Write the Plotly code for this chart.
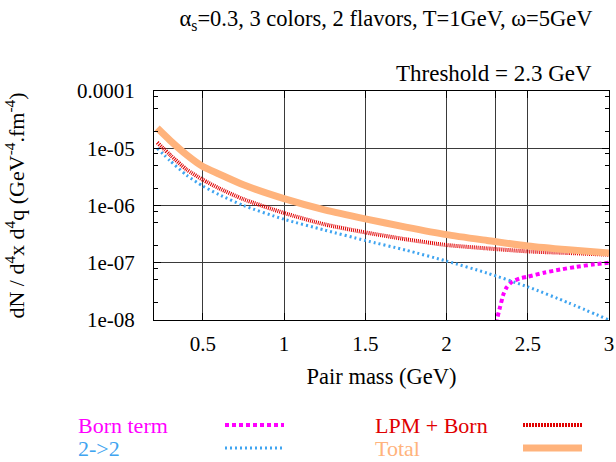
import plotly.graph_objects as go

# ---------------- data ----------------
mass = [0.22, 0.3, 0.4, 0.5, 0.6, 0.75, 1.0, 1.25, 1.5, 1.75, 2.0, 2.25, 2.5, 2.75, 3.0]
lpm_born = [1.26e-5, 7.6e-6, 4.27e-6, 2.82e-6, 2.0e-6, 1.29e-6, 7.4e-7, 4.68e-7,
            3.39e-7, 2.57e-7, 2.04e-7, 1.78e-7, 1.58e-7, 1.48e-7, 1.38e-7]
two_two = [1.0e-5, 6.0e-6, 3.39e-6, 2.19e-6, 1.55e-6, 1.0e-6, 5.75e-7, 3.72e-7,
           2.45e-7, 1.66e-7, 1.07e-7, 6.6e-8, 3.8e-8, 2.0e-8, 1.0e-8]
total = [2.25e-5, 1.36e-5, 7.7e-6, 4.8e-6, 3.55e-6, 2.3e-6, 1.32e-6, 8.4e-7,
         5.85e-7, 4.2e-7, 3.1e-7, 2.45e-7, 1.96e-7, 1.68e-7, 1.48e-7]
born_mass = [2.3, 2.31, 2.33, 2.35, 2.37, 2.4, 2.45, 2.5, 2.6, 2.7, 2.8, 2.9, 3.0]
born = [5e-9, 1.0e-8, 1.7e-8, 2.8e-8, 3.7e-8, 4.6e-8, 5.3e-8, 5.7e-8, 6.7e-8,
        7.6e-8, 8.5e-8, 9.3e-8, 1.0e-7]

x_ticks = [0.5, 1, 1.5, 2, 2.3, 2.5, 3]
x_labels = ["0.5", "1", "1.5", "2", " ", "2.5", "3"]
y_ticks = [1e-8, 1e-7, 1e-6, 1e-5, 1e-4]
y_labels = ["1e-08", "1e-07", "1e-06", "1e-05", "0.0001"]
y_minor = [m * 10.0 ** e for e in range(-8, -4) for m in (2, 5, 8)]

title = "α<sub>s</sub>=0.3, 3 colors, 2 flavors, T=1GeV, ω=5GeV"
threshold_label = "Threshold = 2.3 GeV"

# ---------------- styles ----------------
FONT = "Liberation Serif"
C_BORN = "#ff00ff"
C_22 = "#3fa4f0"
C_LPM = "#e00000"
C_TOT = "#ffb37c"
series = [
    ("Born term", born_mass, born, C_BORN, 4, "4px,3px"),
    ("2->2", mass, two_two, C_22, 3, "2px,3px"),
    ("LPM + Born", mass, lpm_born, C_LPM, 4, "1px,1px"),
    ("Total", mass, total, C_TOT, 7, "solid"),
]

W, H = 616, 462
L, R, T, B = 154, 7, 91, 142
PW, PH = W - L - R, H - T - B


def px(xp):
    return (xp - L) / PW


def py(yp):
    return (H - B - yp) / PH


fig = go.Figure()
for name, xs, ys, col, w, dash in series:
    fig.add_trace(go.Scatter(x=xs, y=ys, mode="lines", name=name,
                             line=dict(color=col, width=w, dash=dash, shape="spline", smoothing=0.6),
                             showlegend=False))

# manual legend: text then line sample, two columns
legend_pos = {
    "Born term": (76, 425, 225, 284),
    "2->2": (76, 448, 225, 284),
    "LPM + Born": (373, 425, 523, 582),
    "Total": (373, 448, 523, 582),
}
legend_dash = {"LPM + Born": "2px,1px"}
for name, xs, ys, col, w, dash in series:
    tx, ty, s0, s1 = legend_pos[name]
    fig.add_annotation(x=px(tx), y=py(ty), xref="paper", yref="paper", text=name,
                       showarrow=False, xanchor="left", yanchor="middle",
                       font=dict(family=FONT, size=22, color=col))
    fig.add_shape(type="line", xref="paper", yref="paper", x0=px(s0), x1=px(s1),
                  y0=py(ty), y1=py(ty),
                  line=dict(color=col, width=w, dash=legend_dash.get(name, dash)))

fig.add_annotation(x=px(594), y=py(73), xref="paper", yref="paper", text=threshold_label,
                   showarrow=False, xanchor="right", yanchor="middle",
                   font=dict(family=FONT, size=23, color="black"))

fig.update_layout(
    width=W, height=H,
    margin=dict(l=L, r=R, t=T, b=B, autoexpand=False),
    paper_bgcolor="white", plot_bgcolor="white",
    font=dict(family=FONT, size=21, color="black"),
    title=dict(text=title, x=386 / W, xanchor="center", y=1 - 18 / H, yanchor="middle",
               font=dict(family=FONT, size=22.5, color="black")),
)
fig.update_xaxes(range=[0.2, 3], tickmode="array", tickvals=x_ticks, ticktext=x_labels,
                 ticks="inside", ticklen=7, tickcolor="black", automargin=False,
                 showline=True, linecolor="black", linewidth=1, mirror="ticks",
                 showgrid=True, gridcolor="#3a3a3a", gridwidth=1.4, zeroline=False,
                 ticklabelstandoff=5,
                 title=dict(text="Pair mass (GeV)", standoff=13,
                            font=dict(family=FONT, size=22.5)))
fig.update_yaxes(type="log", range=[-8, -4], tickmode="array", tickvals=y_ticks, ticktext=y_labels,
                 ticks="inside", ticklen=7, tickcolor="black", automargin=False,
                 minor=dict(tickvals=y_minor, ticks="inside", ticklen=4, tickcolor="black", showgrid=False),
                 showline=True, linecolor="black", linewidth=1, mirror="ticks",
                 showgrid=True, gridcolor="#3a3a3a", gridwidth=1.4, zeroline=False,
                 ticklabelstandoff=14,
                 title=dict(text="dN / d<sup>4</sup>x d<sup>4</sup>q (GeV<sup>-4</sup>.fm<sup>-4</sup>)",
                            standoff=46, font=dict(family=FONT, size=22)))

fig.write_html("out.html", config={"displayModeBar": False},
               post_script="document.body.style.margin='0px';")
